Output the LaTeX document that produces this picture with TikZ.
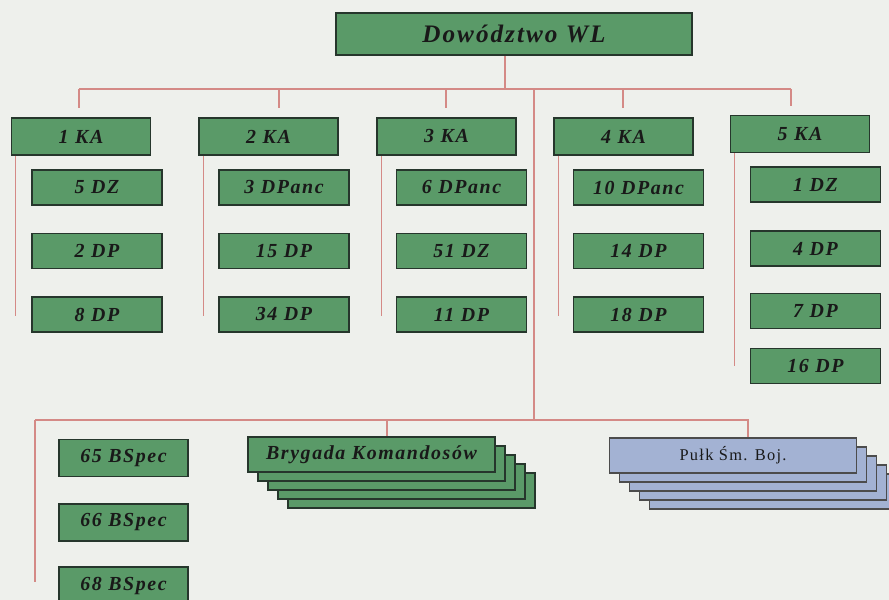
\documentclass[tikz,border=0pt]{standalone}
\usepackage{fontspec}
\setmainfont{Liberation Serif}
\newfontfamily\unitfont[LetterSpace=8]{Liberation Serif}
\newfontfamily\unitbold[LetterSpace=8]{Liberation Serif Bold Italic}
\usetikzlibrary{calc}
\definecolor{paper}{HTML}{EEF0EC}
\definecolor{unitgreen}{HTML}{5A9A68}
\definecolor{unitblue}{HTML}{A3B2D3}
\definecolor{unitedge}{HTML}{26362C}
\definecolor{linkred}{HTML}{D48A86}

\begin{document}
\begin{tikzpicture}[x=0.03cm,y=-0.03cm,
  unit/.style={draw=unitedge,fill=unitgreen,line width=1.4pt,inner sep=0pt,text=black!90,
    font=\unitbold\fontsize{17}{19}\selectfont},
  hq/.style={unit,minimum width=10.68cm,minimum height=1.26cm,font=\unitbold\fontsize{21.5}{23}\selectfont},
  corps/.style={unit,minimum width=4.17cm,minimum height=1.11cm},
  div/.style={unit,minimum width=3.9cm,minimum height=1.05cm},
  spec/.style={unit,minimum width=3.87cm,minimum height=1.11cm},
  stack/.style={unit,minimum width=7.41cm,minimum height=1.05cm},
  bluestack/.style={stack,fill=unitblue,draw=black!70,font=\unitfont\fontsize{14}{16}\selectfont},
  link/.style={draw=linkred,line width=0.9pt}]
\fill[paper] (0,0) rectangle (889,600);
\useasboundingbox (0,0) rectangle (889,600);

\node[hq] (dow) at (514,34) {Dowództwo WL};
\node[corps] (ka1) at (81,136.5) {1 KA};
\node[corps] (ka2) at (268.5,136.5) {2 KA};
\node[corps] (ka3) at (446.5,136.5) {3 KA};
\node[corps] (ka4) at (623.5,136.5) {4 KA};
\node[corps] (ka5) at (800,134) {5 KA};

\foreach \nm/\x/\y/\t in {a1/97/187.5/5 DZ,a2/97/251/2 DP,a3/97/314.5/8 DP,
    b1/284/187.5/3 DPanc,b2/284/251/15 DP,b3/284/314.5/34 DP,
    c1/461.5/187.5/6 DPanc,c2/461.5/251/51 DZ,c3/461.5/314.5/11 DP,
    d1/638.5/187.5/10 DPanc,d2/638.5/251/14 DP,d3/638.5/314.5/18 DP,
    e1/815.5/184.5/1 DZ,e2/815.5/248.5/4 DP,e3/815.5/311/7 DP,e4/815.5/366/16 DP}
  \node[div] (\nm) at (\x,\y) {\t};

\node[spec] (bs65) at (123.5,458) {65 BSpec};
\node[spec] (bs66) at (123.5,522.5) {66 BSpec};
\node[spec] (bs68) at (123.5,585.5) {68 BSpec};

% stacked brigade and regiment
\coordinate (brigc) at (371.5,454.5);
\coordinate (pukc) at (733,455.5);
\foreach \i in {4,3,2,1} {
  \node[stack] (brig\i) at ($(brigc)+(10*\i,9*\i)$) {};
  \node[bluestack] (puk\i) at ($(pukc)+(10*\i,9*\i)$) {};
}
\node[stack] (brig) at (brigc) {Brygada Komandosów};
\node[bluestack] (puk) at (pukc) {Pułk Śm. Boj.};

% connectors
\coordinate (bus) at (505,89);
\coordinate (busL) at (79,89);
\coordinate (busR) at (791,89);
\coordinate (trunk) at (534,89);
\coordinate (bus2) at (534,420);
\coordinate (bus2L) at (35,420);
\coordinate (bus2R) at (748,420);
\coordinate (bus2B) at (387,420);
\coordinate (specEnd) at (35,582);
\draw[link] (dow.south -| bus) -- (bus);
\draw[link] (busL) -- (busR);
\foreach \k/\x in {1/79,2/279,3/446,4/623,5/791}
  \draw[link] (\x,0 |- bus) -- ($(\x,0 |- ka\k.north)+(0,-9)$);
\foreach \k/\e in {1/160,2/160,3/160,4/160,5/213}
  \draw[link] ($(ka\k.south west)+(5,0)$) -- ++(0,\e);
\draw[link] (trunk) -- (bus2);
\draw[link] (bus2L) -- (bus2R) -- (bus2R |- puk.north);
\draw[link] (bus2B) -- (bus2B |- brig.north);
\draw[link] (bus2L) -- (specEnd);
\end{tikzpicture}
\end{document}
